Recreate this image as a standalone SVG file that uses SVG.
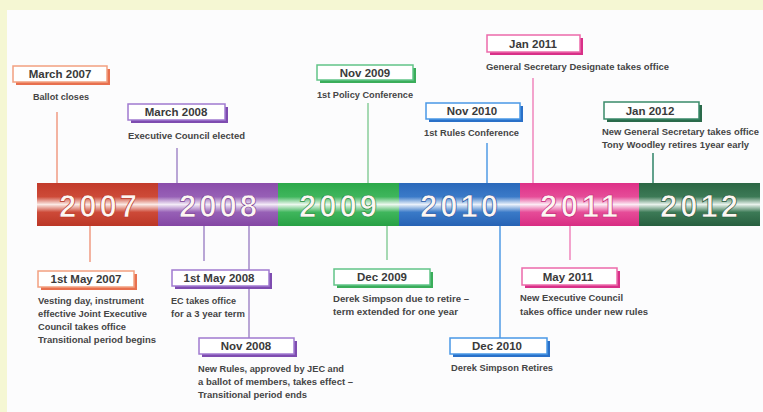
<svg xmlns="http://www.w3.org/2000/svg" width="763" height="412" viewBox="0 0 763 412">
<defs>
<style>
.yr{font-family:"Liberation Sans",Arial,sans-serif;font-weight:bold;font-size:31px;fill:#fdf6f2;stroke-width:0.7;text-anchor:middle}
.tt{font-family:"Liberation Sans",Arial,sans-serif;font-weight:bold;font-size:11.5px;fill:#3a3a3a;text-anchor:middle}
.ds{font-family:"Liberation Sans",Arial,sans-serif;font-weight:bold;font-size:9px;fill:#454545}
.bx{fill:#ffffff;stroke-width:1.5}
.cn line{stroke-width:1.6}
</style>
<linearGradient id="g07" x1="0" y1="0" x2="0" y2="1"><stop offset="0" stop-color="#c23a2a"/><stop offset="0.32" stop-color="#cd4a38"/><stop offset="0.5" stop-color="#fbe9e4"/><stop offset="0.68" stop-color="#cd4a38"/><stop offset="1" stop-color="#bb3626"/></linearGradient>
<linearGradient id="g08" x1="0" y1="0" x2="0" y2="1"><stop offset="0" stop-color="#8a4caa"/><stop offset="0.32" stop-color="#9760b6"/><stop offset="0.5" stop-color="#f3ebf7"/><stop offset="0.68" stop-color="#9760b6"/><stop offset="1" stop-color="#8446a4"/></linearGradient>
<linearGradient id="g09" x1="0" y1="0" x2="0" y2="1"><stop offset="0" stop-color="#2ca84a"/><stop offset="0.32" stop-color="#3fb65c"/><stop offset="0.5" stop-color="#ecf8ee"/><stop offset="0.68" stop-color="#3fb65c"/><stop offset="1" stop-color="#27a044"/></linearGradient>
<linearGradient id="g10" x1="0" y1="0" x2="0" y2="1"><stop offset="0" stop-color="#2a68ba"/><stop offset="0.32" stop-color="#3a7ac8"/><stop offset="0.5" stop-color="#eaf1fb"/><stop offset="0.68" stop-color="#3a7ac8"/><stop offset="1" stop-color="#2662b4"/></linearGradient>
<linearGradient id="g11" x1="0" y1="0" x2="0" y2="1"><stop offset="0" stop-color="#de3088"/><stop offset="0.32" stop-color="#e64c98"/><stop offset="0.5" stop-color="#fcebf4"/><stop offset="0.68" stop-color="#e64c98"/><stop offset="1" stop-color="#d82c82"/></linearGradient>
<linearGradient id="g12" x1="0" y1="0" x2="0" y2="1"><stop offset="0" stop-color="#2b6644"/><stop offset="0.32" stop-color="#3c7a56"/><stop offset="0.5" stop-color="#e8f2ec"/><stop offset="0.68" stop-color="#3c7a56"/><stop offset="1" stop-color="#275f3f"/></linearGradient>
</defs>

<rect x="0" y="0" width="763" height="412" fill="#f5f7d3"/>
<rect x="7" y="10" width="756" height="402" fill="#fcfcfd"/>

<g id="connectors" class="cn">
<line x1="57" y1="112" x2="57" y2="184" stroke="#f0a08a"/>
<line x1="177" y1="148" x2="177" y2="184" stroke="#a890cc"/>
<line x1="368" y1="103" x2="368" y2="184" stroke="#90d0a0"/>
<line x1="487" y1="143" x2="487" y2="184" stroke="#5aa0e6"/>
<line x1="533" y1="78" x2="533" y2="184" stroke="#f08cc0"/>
<line x1="653" y1="153" x2="653" y2="184" stroke="#3a8a70"/>
<line x1="90" y1="225" x2="90" y2="262" stroke="#f0a08a"/>
<line x1="204" y1="225" x2="204" y2="261" stroke="#a890cc"/>
<line x1="249" y1="225" x2="249" y2="338" stroke="#a890cc"/>
<line x1="387" y1="225" x2="387" y2="260" stroke="#90d0a0"/>
<line x1="500" y1="225" x2="500" y2="338" stroke="#5aa0e6"/>
<line x1="570" y1="225" x2="570" y2="260" stroke="#f08cc0"/>
</g>

<g id="timeline">
<rect x="37" y="183" width="121" height="43" fill="url(#g07)"/>
<rect x="158" y="183" width="120" height="43" fill="url(#g08)"/>
<rect x="278" y="183" width="121" height="43" fill="url(#g09)"/>
<rect x="399" y="183" width="121" height="43" fill="url(#g10)"/>
<rect x="520" y="183" width="119" height="43" fill="url(#g11)"/>
<rect x="639" y="183" width="121" height="43" fill="url(#g12)"/>
<text class="yr" x="98" y="216.5" stroke="#b83020" textLength="78" lengthAdjust="spacing">2007</text>
<text class="yr" x="218" y="216.5" stroke="#7a3e98" textLength="78" lengthAdjust="spacing">2008</text>
<text class="yr" x="338" y="216.5" stroke="#1f9040" textLength="78" lengthAdjust="spacing">2009</text>
<text class="yr" x="459" y="216.5" stroke="#1e58a8" textLength="78" lengthAdjust="spacing">2010</text>
<text class="yr" x="579" y="216.5" stroke="#c82078" textLength="78" lengthAdjust="spacing">2011</text>
<text class="yr" x="699" y="216.5" stroke="#1e5536" textLength="78" lengthAdjust="spacing">2012</text>
</g>

<g id="march2007">
<rect x="16" y="69" width="94" height="16" fill="#e8704f"/>
<rect class="bx" x="13" y="66" width="94" height="16" stroke="#f2a080"/>
<text class="tt" x="60" y="78">March 2007</text>
<text class="ds" x="61" y="100" text-anchor="middle" textLength="56" lengthAdjust="spacingAndGlyphs">Ballot closes</text>
</g>

<g id="march2008">
<rect x="131" y="107" width="97" height="16" fill="#7e4cb0"/>
<rect class="bx" x="128" y="104" width="97" height="16" stroke="#a07ad0"/>
<text class="tt" x="176" y="116">March 2008</text>
<text class="ds" x="128" y="138.5" textLength="117" lengthAdjust="spacingAndGlyphs">Executive Council elected</text>
</g>

<g id="nov2009">
<rect x="320" y="68" width="96" height="15" fill="#3aad5a"/>
<rect class="bx" x="317" y="65" width="96" height="15" stroke="#62c488"/>
<text class="tt" x="365" y="77">Nov 2009</text>
<text class="ds" x="317" y="98" textLength="96" lengthAdjust="spacingAndGlyphs">1st Policy Conference</text>
</g>

<g id="nov2010">
<rect x="429" y="106" width="94" height="16" fill="#2a70c8"/>
<rect class="bx" x="426" y="103" width="94" height="16" stroke="#4a98e6"/>
<text class="tt" x="472" y="115">Nov 2010</text>
<text class="ds" x="424" y="135.5" textLength="95" lengthAdjust="spacingAndGlyphs">1st Rules Conference</text>
</g>

<g id="jan2011">
<rect x="490" y="38" width="93" height="17" fill="#d83088"/>
<rect class="bx" x="487" y="35" width="93" height="17" stroke="#ec6aaa"/>
<text class="tt" x="533" y="47.5">Jan 2011</text>
<text class="ds" x="486" y="70" textLength="183" lengthAdjust="spacingAndGlyphs">General Secretary Designate takes office</text>
</g>

<g id="jan2012">
<rect x="607" y="105" width="95" height="17" fill="#2a6a4a"/>
<rect class="bx" x="604" y="102" width="95" height="17" stroke="#3a8a6a"/>
<text class="tt" x="650" y="114.5">Jan 2012</text>
<text class="ds" x="602" y="135" textLength="157" lengthAdjust="spacingAndGlyphs">New General Secretary takes office</text>
<text class="ds" x="602" y="148" textLength="147" lengthAdjust="spacingAndGlyphs">Tony Woodley retires 1year early</text>
</g>

<g id="may2007">
<rect x="41" y="274" width="96" height="16" fill="#e8704f"/>
<rect class="bx" x="38" y="271" width="96" height="16" stroke="#f2a080"/>
<text class="tt" x="86" y="283">1st May 2007</text>
<text class="ds" x="38" y="304" textLength="106" lengthAdjust="spacingAndGlyphs">Vesting day, instrument</text>
<text class="ds" x="38" y="317" textLength="109" lengthAdjust="spacingAndGlyphs">effective Joint Executive</text>
<text class="ds" x="38" y="330" textLength="88" lengthAdjust="spacingAndGlyphs">Council takes office</text>
<text class="ds" x="38" y="343" textLength="118" lengthAdjust="spacingAndGlyphs">Transitional period begins</text>
</g>

<g id="may2008">
<rect x="175" y="273" width="97" height="16" fill="#7e4cb0"/>
<rect class="bx" x="172" y="270" width="97" height="16" stroke="#a07ad0"/>
<text class="tt" x="219" y="282">1st May 2008</text>
<text class="ds" x="171" y="304" textLength="65" lengthAdjust="spacingAndGlyphs">EC takes office</text>
<text class="ds" x="171" y="317" textLength="74" lengthAdjust="spacingAndGlyphs">for a 3 year term</text>
</g>

<g id="nov2008">
<rect x="202" y="341" width="95" height="16" fill="#7e4cb0"/>
<rect class="bx" x="199" y="338" width="95" height="16" stroke="#a07ad0"/>
<text class="tt" x="246" y="350">Nov 2008</text>
<text class="ds" x="198" y="372" textLength="146" lengthAdjust="spacingAndGlyphs">New Rules, approved by JEC and</text>
<text class="ds" x="198" y="385" textLength="155" lengthAdjust="spacingAndGlyphs">a ballot of members, takes effect –</text>
<text class="ds" x="198" y="398" textLength="109" lengthAdjust="spacingAndGlyphs">Transitional period ends</text>
</g>

<g id="dec2009">
<rect x="337" y="272" width="96" height="16" fill="#3aad5a"/>
<rect class="bx" x="334" y="269" width="96" height="16" stroke="#62c488"/>
<text class="tt" x="382" y="281">Dec 2009</text>
<text class="ds" x="333" y="302" textLength="136" lengthAdjust="spacingAndGlyphs">Derek Simpson due to retire –</text>
<text class="ds" x="333" y="315" textLength="125" lengthAdjust="spacingAndGlyphs">term extended for one year</text>
</g>

<g id="dec2010">
<rect x="453" y="341" width="97" height="16" fill="#2a70c8"/>
<rect class="bx" x="450" y="338" width="97" height="16" stroke="#4a98e6"/>
<text class="tt" x="497" y="350">Dec 2010</text>
<text class="ds" x="451" y="371" textLength="102" lengthAdjust="spacingAndGlyphs">Derek Simpson Retires</text>
</g>

<g id="may2011">
<rect x="525" y="271" width="95" height="17" fill="#d83088"/>
<rect class="bx" x="522" y="268" width="95" height="17" stroke="#ec6aaa"/>
<text class="tt" x="568" y="281">May 2011</text>
<text class="ds" x="520" y="301" textLength="103" lengthAdjust="spacingAndGlyphs">New Executive Council</text>
<text class="ds" x="520" y="315" textLength="128" lengthAdjust="spacingAndGlyphs">takes office under new rules</text>
</g>
</svg>
